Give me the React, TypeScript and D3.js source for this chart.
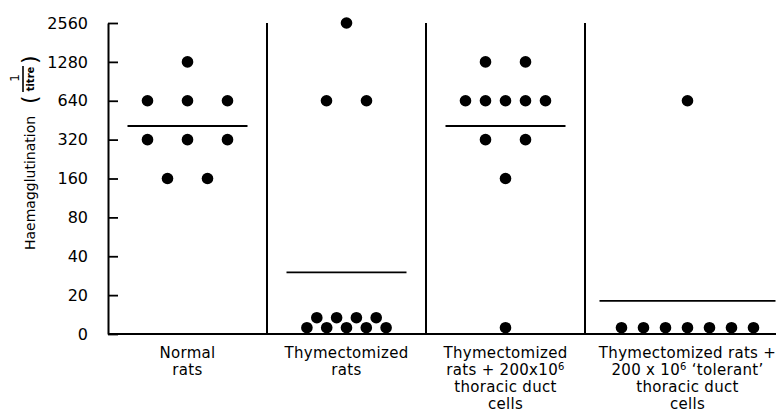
import React, { useEffect, useRef } from 'react';
import * as d3 from 'd3';

// groups along the x axis
const groups = ['normal', 'thymectomized', 'thymTdc', 'thymTolerant'];
const groupLabels = [
  ['Normal', 'rats'],
  ['Thymectomized', 'rats'],
  ['Thymectomized', 'rats + 200x10^6', 'thoracic duct', 'cells'],
  ['Thymectomized rats +', '200 x 10^6 \u2018tolerant\u2019', 'thoracic duct', 'cells'],
];

// haemagglutination titres, one entry per rat
const normalTitres = [1280, 640, 640, 640, 320, 320, 320, 160, 160];
const thymTitres = [2560, 640, 640, 0, 0, 0, 0, 0, 0, 0, 0, 0];
const thymTdcTitres = [1280, 1280, 640, 640, 640, 640, 640, 320, 320, 160, 0];
const tolerantTitres = [640, 0, 0, 0, 0, 0, 0, 0];
const groupTitres = [normalTitres, thymTitres, thymTdcTitres, tolerantTitres];

// mean line for each group
const meanTitres = [408, 30, 408, 17];

const yTicks = [0, 20, 40, 80, 160, 320, 640, 1280, 2560];

const FONT = "'DejaVu Sans', sans-serif";

const createDotPlot = (el: SVGSVGElement) => {
  const width = 776;
  const height = 414;
  const margin = { left: 108, top: 23, bottom: 334 };
  const groupEdges = [108, 267, 426, 585, 790];
  const r = 5.8;

  const svg = d3.select(el);
  svg.selectAll('*').remove();
  svg.attr('width', width).attr('height', height);

  // titre levels: 0, 20, 40 ... 2560 equally spaced (log2 above 20)
  const yLevel = d3.scaleLinear().domain([0, yTicks.length - 1]).range([margin.bottom, margin.top]);
  const logLevel = d3.scaleLog().base(2).domain([20, 2560]).range([1, yTicks.length - 1]);
  const y = (v: number) => (v < 20 ? yLevel(v / 20) : yLevel(logLevel(v)));

  const x = d3
    .scaleOrdinal<string, number>()
    .domain(groups)
    .range(groups.map((g, i) => (groupEdges[i] + groupEdges[i + 1]) / 2));

  // y axis, ticks pointing inwards
  svg
    .append('g')
    .attr('transform', `translate(${margin.left},0)`)
    .call(
      d3
        .axisLeft(yLevel)
        .tickValues(d3.range(yTicks.length))
        .tickFormat((i) => String(yTicks[i as number]))
        .tickSizeInner(-10)
        .tickSizeOuter(0)
        .tickPadding(20)
    )
    .call((g) => g.select('.domain').attr('stroke', '#000').attr('stroke-width', 2))
    .call((g) => g.selectAll('.tick line').attr('stroke', '#000').attr('stroke-width', 1.8))
    .call((g) =>
      g
        .selectAll('.tick text')
        .attr('font-family', FONT)
        .attr('font-size', 16)
        .attr('fill', '#000')
    );

  // x axis line
  svg
    .append('line')
    .attr('x1', margin.left)
    .attr('x2', width)
    .attr('y1', margin.bottom)
    .attr('y2', margin.bottom)
    .attr('stroke', '#000')
    .attr('stroke-width', 2);

  // dividers between groups
  svg
    .selectAll('.divider')
    .data(groupEdges.slice(1, -1))
    .enter()
    .append('line')
    .attr('class', 'divider')
    .attr('x1', (d) => d)
    .attr('x2', (d) => d)
    .attr('y1', margin.top)
    .attr('y2', margin.bottom)
    .attr('stroke', '#000')
    .attr('stroke-width', 2);

  // spread dots of equal titre sideways
  const layoutDots = (values: number[], cx: number) => {
    const dots: { cx: number; cy: number }[] = [];
    const base = y(0) - r - 0.5;
    d3.group(values, (v) => v).forEach((vals, v) => {
      const n = vals.length;
      if (v === 0 && n > 7) {
        vals.forEach((_, i) => {
          dots.push({ cx: cx + (i - (n - 1) / 2) * 9.9, cy: base - (i % 2 ? 10 : 0) });
        });
      } else {
        const step = n <= 3 ? 40 : n <= 5 ? 20 : 22;
        vals.forEach((_, i) => {
          dots.push({ cx: cx + (i - (n - 1) / 2) * step, cy: v === 0 ? base : y(v) });
        });
      }
    });
    return dots;
  };

  groups.forEach((g, gi) => {
    svg
      .append('g')
      .selectAll('circle')
      .data(layoutDots(groupTitres[gi], x(g)))
      .enter()
      .append('circle')
      .attr('cx', (d) => d.cx)
      .attr('cy', (d) => d.cy)
      .attr('r', r)
      .attr('fill', '#000');
  });

  // mean lines
  const meanHalf = [60, 60, 60, 88];
  svg
    .selectAll('.mean')
    .data(meanTitres)
    .enter()
    .append('line')
    .attr('class', 'mean')
    .attr('x1', (d, i) => x(groups[i]) - meanHalf[i])
    .attr('x2', (d, i) => x(groups[i]) + meanHalf[i])
    .attr('y1', (d) => y(d))
    .attr('y2', (d) => y(d))
    .attr('stroke', '#000')
    .attr('stroke-width', 1.8);

  // category labels
  groups.forEach((g, gi) => {
    groupLabels[gi].forEach((line, li) => {
      const t = svg
        .append('text')
        .attr('x', x(g))
        .attr('y', 358 + li * 17)
        .attr('text-anchor', 'middle')
        .attr('font-family', FONT)
        .attr('font-size', 15)
        .attr('letter-spacing', 0.3)
        .attr('fill', '#000');
      const parts = line.split('^');
      if (parts.length === 1) {
        t.text(line);
      } else {
        const sup = parts[1].charAt(0);
        t.append('tspan').text(parts[0]);
        t.append('tspan').attr('dy', -5).attr('font-size', 10).text(sup);
        if (parts[1].length > 1) t.append('tspan').attr('dy', 5).text(parts[1].slice(1));
      }
    });
  });

  // y axis title, rotated
  const yl = svg
    .append('g')
    .attr('transform', 'translate(35,250) rotate(-90)')
    .attr('font-family', FONT)
    .attr('fill', '#000');
  yl.append('text').attr('x', 0).attr('y', 0).attr('font-size', 14).text('Haemagglutination');
  yl.append('text').attr('x', 146).attr('y', 2).attr('font-size', 22).text('(');
  yl.append('text').attr('x', 186).attr('y', 2).attr('font-size', 22).text(')');
  yl.append('text')
    .attr('x', 172)
    .attr('y', -16)
    .attr('text-anchor', 'middle')
    .attr('font-size', 12)
    .text('1');
  yl.append('line')
    .attr('x1', 158)
    .attr('x2', 184)
    .attr('y1', -12)
    .attr('y2', -12)
    .attr('stroke', '#000')
    .attr('stroke-width', 1.6);
  yl.append('text')
    .attr('x', 171)
    .attr('y', -1.5)
    .attr('text-anchor', 'middle')
    .attr('font-size', 10)
    .attr('font-weight', 'bold')
    .text('titre');
};

const App = () => {
  const ref = useRef<SVGSVGElement>(null);

  useEffect(() => {
    if (ref.current) createDotPlot(ref.current);
  }, []);

  return (
    <svg
      ref={ref}
      width={776}
      height={414}
      style={{ position: 'absolute', left: 0, top: 0, background: '#fff' }}
    />
  );
};

export default App;
